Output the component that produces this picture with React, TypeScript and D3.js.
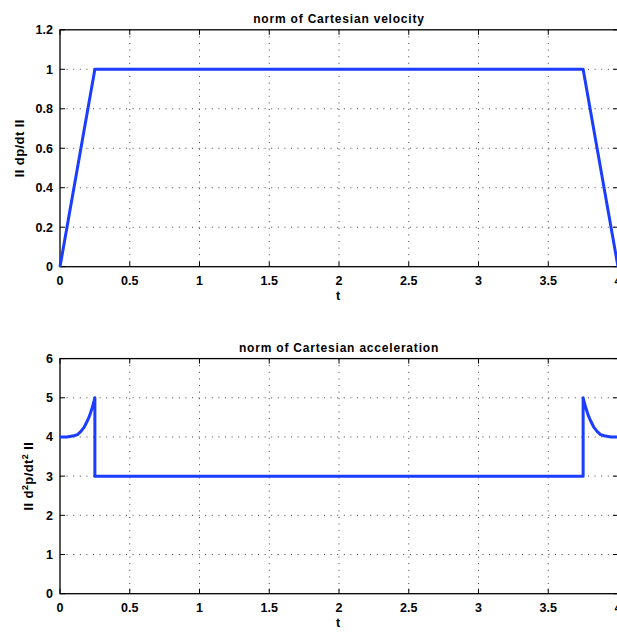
import React from "react";
import * as d3 from "d3";

// velocity norm
const velT = [0, 0.25, 3.75, 4];
const velV = [0, 1, 1, 0];

// acceleration norm
const accT = [0, 0.05, 0.1, 0.125, 0.15, 0.175, 0.2, 0.215, 0.225, 0.24, 0.25, 0.25, 3.75, 3.75, 3.76, 3.775, 3.785, 3.8, 3.825, 3.85, 3.875, 3.9, 3.95, 4];
const accV = [4, 4, 4.03, 4.06, 4.14, 4.26, 4.44, 4.57, 4.68, 4.86, 5, 3, 3, 5, 4.86, 4.68, 4.57, 4.44, 4.26, 4.14, 4.06, 4.03, 4, 4];

const xTicks = [0, 0.5, 1, 1.5, 2, 2.5, 3, 3.5, 4];
const velTicks = [0, 0.2, 0.4, 0.6, 0.8, 1, 1.2];
const accTicks = [0, 1, 2, 3, 4, 5, 6];

const W = 617, H = 634;
const FONT = "'Liberation Sans', Arial, Helvetica, sans-serif";
const BLUE = "#1a3dff";

type PanelProps = {
  top: number; bottom: number; yMax: number; yTicks: number[]; labelX: number;
  t: number[]; v: number[]; title: string; ylabel: React.ReactNode; fmt: (d: number) => string;
};

function Panel({ top, bottom, yMax, yTicks, labelX, t, v, title, ylabel, fmt }: PanelProps) {
  const L = 60, R = 618;
  const sx = d3.scaleLinear().domain([0, 4]).range([L, R]);
  const sy = d3.scaleLinear().domain([0, yMax]).range([bottom, top]);
  const line = d3.line<number>().x((_, i) => sx(t[i])).y(d => sy(d));
  const tk = 5;
  return (
    <g fontFamily={FONT} fontWeight="bold">
      {/* dotted grid */}
      {xTicks.slice(1, -1).map(d => <line key={"gx" + d} x1={sx(d)} x2={sx(d)} y1={top} y2={bottom} stroke="#444" strokeWidth="1" strokeDasharray="1 5.6" />)}
      {yTicks.slice(1, -1).map(d => <line key={"gy" + d} x1={L} x2={R} y1={sy(d)} y2={sy(d)} stroke="#444" strokeWidth="1" strokeDasharray="1 5.6" />)}
      {/* inward ticks */}
      {xTicks.map(d => <g key={"tx" + d}>
        <line x1={sx(d)} x2={sx(d)} y1={bottom} y2={bottom - tk} stroke="#000" />
        <line x1={sx(d)} x2={sx(d)} y1={top} y2={top + tk} stroke="#000" />
      </g>)}
      {yTicks.map(d => <g key={"ty" + d}>
        <line x1={L} x2={L + tk} y1={sy(d)} y2={sy(d)} stroke="#000" />
        <line x1={R} x2={R - tk} y1={sy(d)} y2={sy(d)} stroke="#000" />
      </g>)}
      <rect x={L} y={top} width={R - L} height={bottom - top} fill="none" stroke="#000" strokeWidth="1.3" />
      <path d={line(v) ?? ""} fill="none" stroke={BLUE} strokeWidth="3" strokeLinejoin="round" />
      {xTicks.map(d => <text key={"lx" + d} x={sx(d)} y={bottom + 18} textAnchor="middle" fontSize="12.5">{String(d)}</text>)}
      {yTicks.map(d => <text key={"ly" + d} x={L - 7} y={sy(d) + 4.5} textAnchor="end" fontSize="12.5">{fmt(d)}</text>)}
      <text x={(L + R) / 2} y={top - 7} textAnchor="middle" fontSize="12" letterSpacing="0.8">{title}</text>
      <text x={(L + R) / 2 - 1} y={bottom + 33} textAnchor="middle" fontSize="12.5">t</text>
      <g transform={`translate(${labelX} ${(top + bottom) / 2}) rotate(-90)`}>
        <text x={0} y={0} textAnchor="middle" fontSize="13" letterSpacing="0.4">{ylabel}</text>
      </g>
    </g>
  );
}

export default function App() {
  return (
    <svg width={W} height={H} viewBox={`0 0 ${W} ${H}`} style={{ position: "fixed", left: 0, top: 0, background: "#fff" }}>
      <rect width={W} height={H} fill="#fff" />
      <Panel top={29.8} bottom={266.7} yMax={1.2} yTicks={velTicks} t={velT} v={velV} labelX={24}
        title="norm of Cartesian velocity" ylabel="II dp/dt II"
        fmt={d => (d === 0 || d === 1 ? String(d) : d.toFixed(1))} />
      <Panel top={358.6} bottom={593.7} yMax={6} yTicks={accTicks} t={accT} v={accV} labelX={33}
        title="norm of Cartesian acceleration"
        ylabel={<>II d<tspan fontSize="9" dy="-5">2</tspan><tspan dy="5">p/dt</tspan><tspan fontSize="9" dy="-5">2</tspan><tspan dy="5"> II</tspan></>}
        fmt={d => String(d)} />
    </svg>
  );
}
